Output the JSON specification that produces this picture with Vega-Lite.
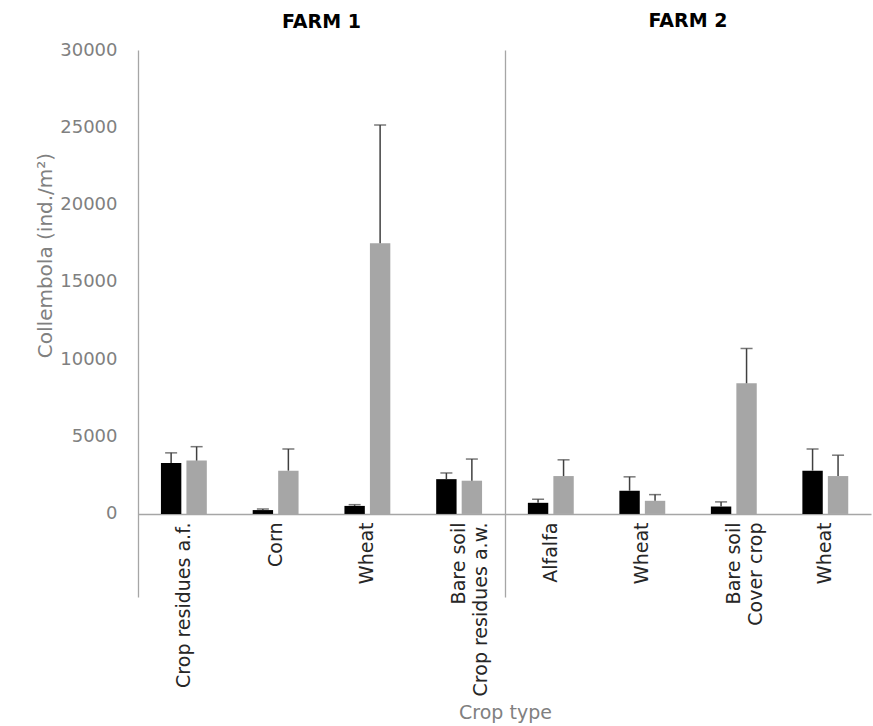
{
  "$schema": "https://vega.github.io/schema/vega-lite/v6.json",
  "padding": {"left": 35, "top": 12, "right": 2, "bottom": 5},
  "spacing": 0,
  "bounds": "flush",
  "config": {
    "view": {"stroke": null},
    "font": "DejaVu Sans",
    "axis": {"grid": false, "domainColor": "#a6a6a6", "domainWidth": 1.3}
  },
  "data": {"values": [
    {"farm": "Farm 1", "crop": "Crop residues a.f.", "series": "s1", "value": 3300, "upper": 3950},
    {"farm": "Farm 1", "crop": "Crop residues a.f.", "series": "s2", "value": 3450, "upper": 4350},
    {"farm": "Farm 1", "crop": "Corn", "series": "s1", "value": 250, "upper": 320},
    {"farm": "Farm 1", "crop": "Corn", "series": "s2", "value": 2800, "upper": 4200},
    {"farm": "Farm 1", "crop": "Wheat", "series": "s1", "value": 520, "upper": 600},
    {"farm": "Farm 1", "crop": "Wheat", "series": "s2", "value": 17500, "upper": 25150},
    {"farm": "Farm 1", "crop": "Bare soil|Crop residues a.w.", "series": "s1", "value": 2250, "upper": 2650},
    {"farm": "Farm 1", "crop": "Bare soil|Crop residues a.w.", "series": "s2", "value": 2150, "upper": 3550},
    {"farm": "Farm 2", "crop": "Alfalfa", "series": "s1", "value": 720, "upper": 950},
    {"farm": "Farm 2", "crop": "Alfalfa", "series": "s2", "value": 2450, "upper": 3500},
    {"farm": "Farm 2", "crop": "Wheat", "series": "s1", "value": 1500, "upper": 2400},
    {"farm": "Farm 2", "crop": "Wheat", "series": "s2", "value": 850, "upper": 1250},
    {"farm": "Farm 2", "crop": "Bare soil|Cover crop", "series": "s1", "value": 480, "upper": 780},
    {"farm": "Farm 2", "crop": "Bare soil|Cover crop", "series": "s2", "value": 8450, "upper": 10700},
    {"farm": "Farm 2", "crop": "Wheat#2", "series": "s1", "value": 2800, "upper": 4200},
    {"farm": "Farm 2", "crop": "Wheat#2", "series": "s2", "value": 2450, "upper": 3800}
  ]},
  "hconcat": [
    {
      "width": 367,
      "height": 547,
      "title": {"text": "FARM 1", "frame": "group", "anchor": "middle", "offset": 9, "fontSize": 19, "font": "DejaVu Sans", "fontWeight": "bold", "color": "#000000"},
      "transform": [{"filter": "datum.farm === 'Farm 1'"}],
      "encoding": {
        "x": {"field": "crop", "type": "nominal", "sort": null,
          "scale": {"paddingInner": 0.5, "paddingOuter": 0.25},
          "axis": {"title": null, "offset": -83, "ticks": false, "labelAngle": 270, "labelAlign": "right", "labelBaseline": "middle", "labelPadding": 8, "labelFontSize": 19, "labelColor": "#262626", "labelLimit": 400, "labelLineHeight": 22,
            "labelExpr": "split(replace(datum.value, '#2', ''), '|')"}},
        "xOffset": {"field": "series", "type": "nominal", "scale": {"paddingInner": 0.2, "paddingOuter": 0}},
        "y": {"field": "value", "type": "quantitative", "scale": {"domain": [-5370, 30000], "nice": false, "zero": false},
          "axis": {"title": "Collembola (ind./m²)", "values": [0, 5000, 10000, 15000, 20000, 25000, 30000], "ticks": false, "labelPadding": 21, "labelFontSize": 18, "labelColor": "#808080", "format": "d",
            "titleFontSize": 20, "titleColor": "#808080", "titleFontWeight": "normal", "titleX": -93, "titleY": 205, "titleAngle": 270, "titleAlign": "center", "titleBaseline": "middle"}}
      },
      "layer": [
        {"mark": {"type": "bar"},
         "encoding": {
           "y2": {"datum": 0},
           "color": {"field": "series", "type": "nominal", "scale": {"domain": ["s1", "s2"], "range": ["#000000", "#a6a6a6"]}, "legend": null}
         }},
        {"mark": {"type": "rule", "color": "#404040", "strokeWidth": 1.5},
         "encoding": {"y2": {"field": "upper"}}},
        {"mark": {"type": "tick", "color": "#404040", "thickness": 1.5, "size": 12, "orient": "horizontal"},
         "encoding": {"y": {"field": "upper", "type": "quantitative", "title": "Collembola (ind./m²)"}}}
      ]
    },
    {
      "width": 366,
      "height": 547,
      "title": {"text": "FARM 2", "frame": "group", "anchor": "middle", "offset": 19, "fontSize": 19, "font": "DejaVu Sans", "fontWeight": "bold", "color": "#000000"},
      "transform": [{"filter": "datum.farm === 'Farm 2'"}],
      "encoding": {
        "x": {"field": "crop", "type": "nominal", "sort": null,
          "scale": {"paddingInner": 0.5, "paddingOuter": 0.25},
          "axis": {"title": "Crop type", "titleX": 0, "titleY": 198, "titleAlign": "center", "titleBaseline": "middle", "titleFontSize": 19, "titleColor": "#808080", "titleFontWeight": "normal",
            "offset": -83, "ticks": false, "labelAngle": 270, "labelAlign": "right", "labelBaseline": "middle", "labelPadding": 8, "labelFontSize": 19, "labelColor": "#262626", "labelLimit": 400, "labelLineHeight": 22,
            "labelExpr": "split(replace(datum.value, '#2', ''), '|')"}},
        "xOffset": {"field": "series", "type": "nominal", "scale": {"paddingInner": 0.2, "paddingOuter": 0}},
        "y": {"field": "value", "type": "quantitative", "scale": {"domain": [-5370, 30000], "nice": false, "zero": false},
          "axis": {"title": null, "labels": false, "ticks": false}}
      },
      "layer": [
        {"mark": {"type": "bar"},
         "encoding": {
           "y2": {"datum": 0},
           "color": {"field": "series", "type": "nominal", "scale": {"domain": ["s1", "s2"], "range": ["#000000", "#a6a6a6"]}, "legend": null}
         }},
        {"mark": {"type": "rule", "color": "#404040", "strokeWidth": 1.5},
         "encoding": {"y2": {"field": "upper"}}},
        {"mark": {"type": "tick", "color": "#404040", "thickness": 1.5, "size": 12, "orient": "horizontal"},
         "encoding": {"y": {"field": "upper", "type": "quantitative"}}}
      ]
    }
  ]
}
